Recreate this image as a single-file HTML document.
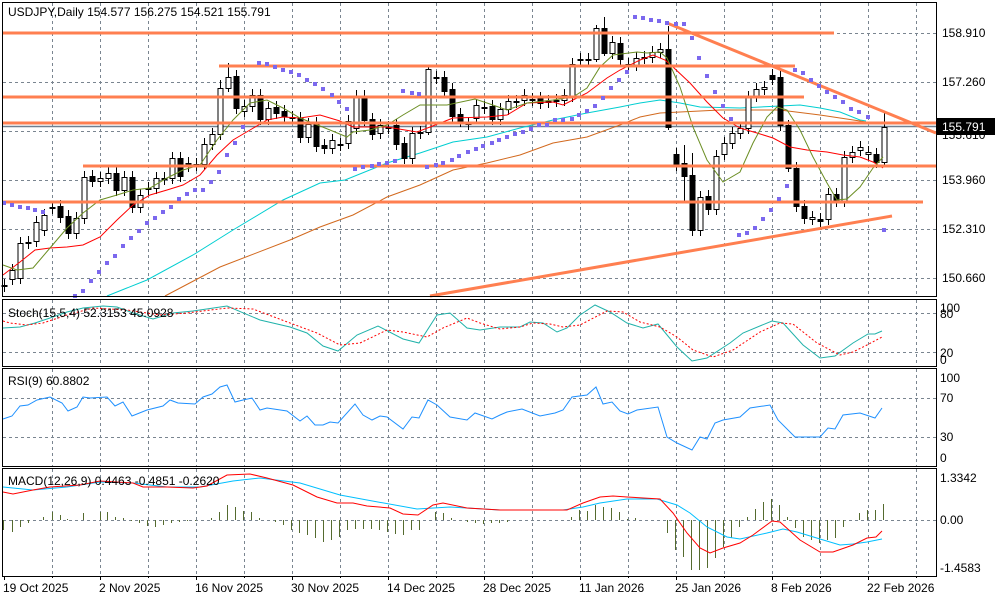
<!DOCTYPE html>
<html><head><meta charset="utf-8"><style>
html,body{margin:0;padding:0;background:#fff;width:1000px;height:600px;overflow:hidden}
svg{display:block}
text{font-family:"Liberation Sans",Arial,sans-serif;font-size:12px;fill:#000}
</style></head><body>
<svg id="s" width="1000" height="600" viewBox="0 0 1000 600" xmlns="http://www.w3.org/2000/svg">
<rect width="1000" height="600" fill="#fff"/>
<g id="grid" stroke="#7a8590" stroke-width="1" stroke-dasharray="3,3" fill="none"></g>
<g id="lines"></g>
<g id="frames" fill="none" stroke="#000" stroke-width="1">
<rect x="2.5" y="2.5" width="934" height="294"/>
<rect x="2.5" y="299.5" width="934" height="67"/>
<rect x="2.5" y="368.5" width="934" height="98"/>
<rect x="2.5" y="468.5" width="934" height="108"/>
</g>
<text x="8" y="16">USDJPY,Daily  154.577 156.275 154.521 155.791</text>
<text x="8" y="317">Stoch(15,5,4) 52.3153 45.0928</text>
<text x="8" y="385">RSI(9) 60.8802</text>
<text x="8" y="485">MACD(12,26,9) 0.4463 -0.4851 -0.2620</text>
<g>
<text x="942" y="37">158.910</text>
<text x="942" y="86">157.260</text>
<text x="942" y="139">155.610</text>
<text x="942" y="184">153.960</text>
<text x="942" y="233">152.310</text>
<text x="942" y="282">150.660</text>
<rect x="937" y="118" width="58" height="17" fill="#000"/>
<text x="942" y="131" style="fill:#fff">155.791</text>
<text x="940" y="312">100</text>
<text x="940" y="318">80</text>
<text x="940" y="357">20</text>
<text x="940" y="364">0</text>
<text x="940" y="382">100</text>
<text x="940" y="402">70</text>
<text x="940" y="441">30</text>
<text x="940" y="462">0</text>
<text x="940" y="482">1.3342</text>
<text x="940" y="524">0.00</text>
<text x="940" y="572">-1.4583</text>
</g>
<g id="dates"></g>
</svg>
<script>
var NS="http://www.w3.org/2000/svg";
function el(p,t,a){var e=document.createElementNS(NS,t);for(var k in a)e.setAttribute(k,a[k]);document.getElementById(p).appendChild(e);return e;}
var vx=[];for(var x=52;x<936;x+=48)vx.push(x);
vx.forEach(function(x){[[3,296],[300,366],[369,466],[469,576]].forEach(function(r){el('grid','line',{x1:x+.5,y1:r[0],x2:x+.5,y2:r[1]});});});
[33,82,131,180,229,278,313,352,398,437,520].forEach(function(y){el('grid','line',{x1:3,y1:y+.5,x2:936,y2:y+.5});});
var dl=["19 Oct 2025","2 Nov 2025","16 Nov 2025","30 Nov 2025","14 Dec 2025","28 Dec 2025","11 Jan 2026","25 Jan 2026","8 Feb 2026","22 Feb 2026"];
dl.forEach(function(d,i){var x=4+96*i;el('dates','line',{x1:x+.5,y1:576,x2:x+.5,y2:580,stroke:'#000'});var t=el('dates','text',{x:x-1,y:592});t.textContent=d;});
for(var k=0;k<19;k++){var xx=52+48*k; if((xx-4)%96!=0) el('dates','line',{x1:xx+.5,y1:576,x2:xx+.5,y2:578,stroke:'#000'});}
el('lines','line',{x1:3,y1:126.5,x2:936,y2:126.5,stroke:'#708090','stroke-width':1.5});
function pl(pts,col,w,extra){var a={points:pts.map(function(p){return p.join(',')}).join(' '),fill:'none',stroke:col,'stroke-width':w||1};for(var k in (extra||{}))a[k]=extra[k];el('lines','polyline',a);}
pl([[107,296],[147,280],[193,255],[233,230],[283,200],[320,183],[345,180],[387,163],[420,153],[453,142],[487,137],[520,128],[553,120],[587,113],[620,107],[640,103],[660,100],[680,103],[700,107],[740,108],[780,106],[800,105],[820,108],[840,112],[860,120],[866,121]],'#00CED1');
pl([[165,296],[220,267],[290,240],[320,227],[353,215],[387,197],[420,185],[453,170],[487,163],[520,155],[553,143],[587,137],[620,125],[640,117],[660,113],[680,112],[720,110],[780,110],[820,115],[860,121],[866,122]],'#D2691E');
var C=[[285,286,'d'],[270,279,'w'],[243,278,'w'],[242,243,'d'],[222,241,'w'],[215,230,'w'],[207,208,'d'],[206,217,'b'],[216,233,'b'],[218,233,'w'],
[177,218,'w'],[176,181,'b'],[178,181,'w'],[173,178,'w'],[173,190,'b'],[177,190,'w'],[177,207,'b'],[195,207,'w'],[188,189,'d'],[178,188,'w'],
[178,179,'d'],[158,178,'w'],[158,176,'b'],[163,166,'b'],[164,165,'d'],[144,164,'w'],[134,144,'w'],[88,134,'w'],[77,88,'w'],[76,108,'b'],
[106,111,'w'],[95,106,'w'],[95,119,'b'],[108,119,'w'],[107,113,'b'],[111,116,'b'],[117,118,'d'],[118,137,'b'],[124,137,'w'],[123,146,'b'],
[145,148,'b'],[140,148,'w'],[144,145,'d'],[121,143,'w'],[96,128,'w'],[96,120,'b'],[119,134,'b'],[125,133,'w'],[127,128,'d'],[125,144,'b'],
[143,158,'b'],[133,158,'w'],[132,133,'d'],[69,132,'w'],[77,78,'d'],[77,91,'b'],[89,116,'b'],[114,121,'b'],[123,124,'d'],[105,118,'w'],
[107,108,'d'],[106,119,'b'],[109,119,'w'],[101,109,'w'],[101,102,'d'],[95,100,'w'],[99,100,'d'],[98,103,'b'],[101,102,'d'],[100,101,'d'],
[95,100,'w'],[64,96,'w'],[59,60,'d'],[59,60,'d'],[28,59,'w'],[28,53,'b'],[42,53,'w'],[43,59,'b'],[64,65,'d'],[58,65,'w'],
[57,58,'d'],[52,57,'w'],[49,52,'w'],[49,127,'b'],[154,165,'b'],[163,176,'b'],[175,230,'b'],[197,230,'w'],[196,209,'b'],[156,209,'w'],
[143,154,'w'],[133,143,'w'],[128,133,'w'],[97,128,'w'],[89,96,'w'],[87,89,'w'],[75,79,'b'],[77,125,'b'],[125,168,'b'],[168,206,'b'],
[206,218,'b'],[217,219,'w'],[219,221,'b'],[194,219,'w'],[194,201,'b'],[157,201,'w'],[152,157,'w'],[147,150,'w'],[152,154,'d'],[154,162,'b'],[127,162,'w']];
var W={27:[80,140],28:[63,92],53:[65,135],74:[25,62],75:[17,56],83:[26,130],86:[153,236],85:[145,202],98:[120,172],110:[113,165]};
C.forEach(function(c,i){var x=4+8*i;var w=W[i]||[c[0]-6,c[1]+6];
el('lines','line',{x1:x+.5,y1:w[0],x2:x+.5,y2:w[1],stroke:'#000'});
var h=Math.max(1,c[1]-c[0]);
el('lines','rect',{x:x-2,y:c[0]+.5,width:5,height:h,fill:c[2]=='b'?'#000':'#fff',stroke:'#000','stroke-width':1});});
// red MA
pl([[3,275],[20,262],[35,250],[50,248],[67,247],[83,245],[100,237],[117,220],[133,205],[150,195],[167,190],[183,185],[200,175],[217,155],[233,140],[250,130],[267,120],[283,117],[300,118],[320,115],[340,121],[353,127],[387,127],[417,132],[430,127],[453,118],[487,117],[507,115],[527,103],[553,102],[563,105],[573,100],[587,93],[607,78],[620,70],[640,60],[653,55],[665,60],[673,67],[690,83],[707,102],[723,118],[740,128],[757,133],[773,138],[790,147],[807,150],[827,152],[843,155],[860,157],[873,162],[883,168]],'#FF0000');
// olive MA
pl([[3,265],[17,270],[33,268],[50,248],[67,228],[83,213],[100,200],[117,195],[133,190],[150,188],[167,178],[183,170],[200,165],[217,140],[233,120],[250,103],[267,100],[283,108],[300,118],[320,126],[330,130],[347,137],[353,132],[370,130],[387,125],[403,115],[420,105],[447,105],[475,99],[487,103],[507,110],[527,103],[553,100],[573,97],[587,88],[600,67],[613,55],[637,52],[647,53],[660,52],[667,58],[680,87],[693,127],[707,160],[723,182],[740,172],[753,143],[767,117],[777,107],[787,110],[800,130],[813,157],[827,183],[837,200],[847,199],[860,187],[873,168],[883,157]],'#6B8E23');
var O='#FF7F50';
[[2,33,834],[219,66,795],[2,97,804],[2,123,936],[83,166,936],[2,202,923]].forEach(function(l){el('lines','line',{x1:l[0],y1:l[1],x2:l[2],y2:l[1],stroke:O,'stroke-width':3});});
el('lines','line',{x1:667,y1:23,x2:936,y2:133,stroke:O,'stroke-width':3});
el('lines','line',{x1:430,y1:296,x2:892,y2:216,stroke:O,'stroke-width':3});
var S=[[4,203],[12,205],[20,207],[28,208],[35,210],[43,212],[75,296],[83,291],[91,281],[99,272],[107,263],[115,256],[123,246],[131,238],[139,231],[147,223],[155,218],[163,212],[171,207],[179,199],[187,194],[195,190],[203,190],[211,182],[219,172],[227,155],[235,143],[243,127],
[259,63],[267,64],[275,67],[283,70],[291,72],[299,75],[307,80],[315,84],[323,89],[332,95],[339,102],[347,109],[355,169],[363,167],[372,166],[379,164],[387,163],[395,161],[403,91],[412,93],[419,94],[427,167],[436,165],[443,163],[452,160],[459,156],[468,152],[476,149],[483,146],[492,143],[499,140],[507,137],[515,134],[523,132],[531,129],[539,125],[547,125],[555,120],[563,120],[572,119],[579,115],[587,111],[595,106],[603,98],[611,88],[619,80],[627,72],
[635,17],[643,18],[651,20],[659,21],[667,23],[676,24],[684,24],[692,38],[699,58],[707,76],[715,92],[723,106],[731,119],[739,235],[747,233],[755,228],[763,219],[771,210],[779,199],[787,186],[795,70],[803,73],[811,80],[819,86],[827,92],[835,97],[843,102],[851,109],[859,112],[868,117],[884,230]];
S.forEach(function(p){el('lines','rect',{x:p[0]-2,y:p[1]-2,width:4,height:4,fill:'#7B68EE'});});
pl([[3,328],[20,327],[35,323],[50,318],[67,312],[83,308],[103,306],[117,307],[133,313],[153,319],[173,313],[193,311],[227,306],[260,320],[290,327],[307,333],[323,346],[338,351],[357,335],[378,326],[403,339],[419,343],[437,315],[450,313],[467,328],[480,330],[500,327],[520,327],[530,322],[543,323],[557,332],[567,328],[580,315],[595,305],[610,312],[627,323],[643,328],[658,324],[677,347],[692,361],[707,358],[730,343],[743,333],[772,321],[783,323],[803,345],[820,358],[835,356],[853,343],[868,334],[875,334],[882,331]],'#20B2AA');
pl([[3,321],[10,323],[27,325],[43,323],[67,315],[93,308],[127,310],[160,315],[187,313],[227,308],[253,309],[290,323],[317,333],[340,345],[360,343],[387,330],[403,332],[427,337],[443,328],[467,318],[480,323],[500,329],[520,327],[533,323],[550,324],[563,327],[580,325],[607,311],[623,312],[640,322],[660,327],[677,337],[693,350],[713,357],[733,350],[760,332],[780,323],[793,324],[817,343],[840,355],[853,352],[867,345],[882,337]],'#FF0000',1,{'stroke-dasharray':'2,2'});
pl([[3,419],[12,416],[20,406],[28,405],[37,400],[50,397],[62,403],[68,411],[77,407],[83,397],[90,398],[107,397],[115,406],[123,402],[132,416],[147,410],[163,406],[170,400],[178,403],[195,404],[203,397],[212,394],[220,387],[227,385],[235,402],[243,400],[252,398],[260,410],[267,408],[287,411],[300,421],[307,416],[315,425],[323,425],[330,422],[338,423],[355,404],[363,415],[372,420],[380,416],[387,417],[403,429],[412,417],[419,418],[428,400],[437,405],[450,417],[467,420],[475,413],[492,419],[500,415],[507,412],[522,409],[540,416],[555,413],[563,410],[572,397],[587,395],[596,387],[603,404],[612,402],[620,411],[628,414],[637,410],[658,407],[667,437],[677,443],[692,450],[700,437],[707,439],[715,423],[723,420],[740,417],[750,408],[770,405],[778,420],[795,437],[820,437],[828,428],[835,429],[843,415],[860,413],[875,418],[882,408]],'#1E90FF');
var H=[[3,530],[12,532],[20,527],[28,523],[43,517],[52,512],[60,515],[67,519],[83,513],[100,512],[107,512],[115,517],[123,518],[131,521],[139,523],[147,526],[155,527],[163,525],[171,523],[179,522],[187,521],[195,521],[211,518],[219,512],[227,505],[235,507],[243,511],[251,512],[259,518],[275,522],[283,525],[291,530],[299,533],[307,535],[315,538],[323,542],[331,540],[339,537],[347,530],[355,529],[363,529],[371,529],[379,530],[387,532],[395,534],[403,535],[411,530],[419,530],[427,520],[435,512],[443,513],[451,518],[467,522],[475,523],[483,524],[491,523],[499,523],[507,522],[571,517],[579,510],[587,511],[595,505],[603,507],[611,508],[619,512],[627,519],[635,518],[667,533],[675,550],[683,557],[691,570],[699,570],[707,568],[715,558],[723,547],[731,538],[739,527],[747,517],[755,509],[763,502],[771,499],[779,505],[787,517],[795,528],[803,537],[811,540],[819,543],[827,540],[835,538],[843,527],[851,520],[859,513],[867,510],[875,510],[883,504]];
H.forEach(function(h){el('lines','line',{x1:h[0]+.5,y1:520,x2:h[0]+.5,y2:h[1],stroke:'#556B2F'});});
pl([[3,487],[33,490],[67,487],[100,482],[133,483],[167,487],[200,487],[233,481],[260,478],[300,483],[340,495],[367,500],[417,509],[450,507],[500,510],[563,510],[583,507],[600,503],[627,499],[657,499],[677,505],[690,513],[707,527],[727,537],[740,539],[767,533],[783,529],[797,532],[820,539],[840,545],[853,544],[867,542],[882,539]],'#00BFFF');
pl([[3,492],[13,494],[33,490],[50,487],[80,485],[100,481],[133,483],[143,487],[167,487],[193,488],[207,486],[227,475],[250,474],[267,478],[293,485],[317,497],[337,503],[353,503],[367,506],[390,508],[403,514],[418,515],[433,505],[443,503],[467,508],[500,510],[567,510],[583,503],[600,497],[613,496],[627,497],[660,499],[673,513],[687,533],[700,548],[710,553],[723,548],[740,543],[753,535],[772,521],[780,522],[800,540],[820,552],[833,552],[853,545],[867,538],[876,537],[882,531]],'#FF0000');
</script>
</body></html>
